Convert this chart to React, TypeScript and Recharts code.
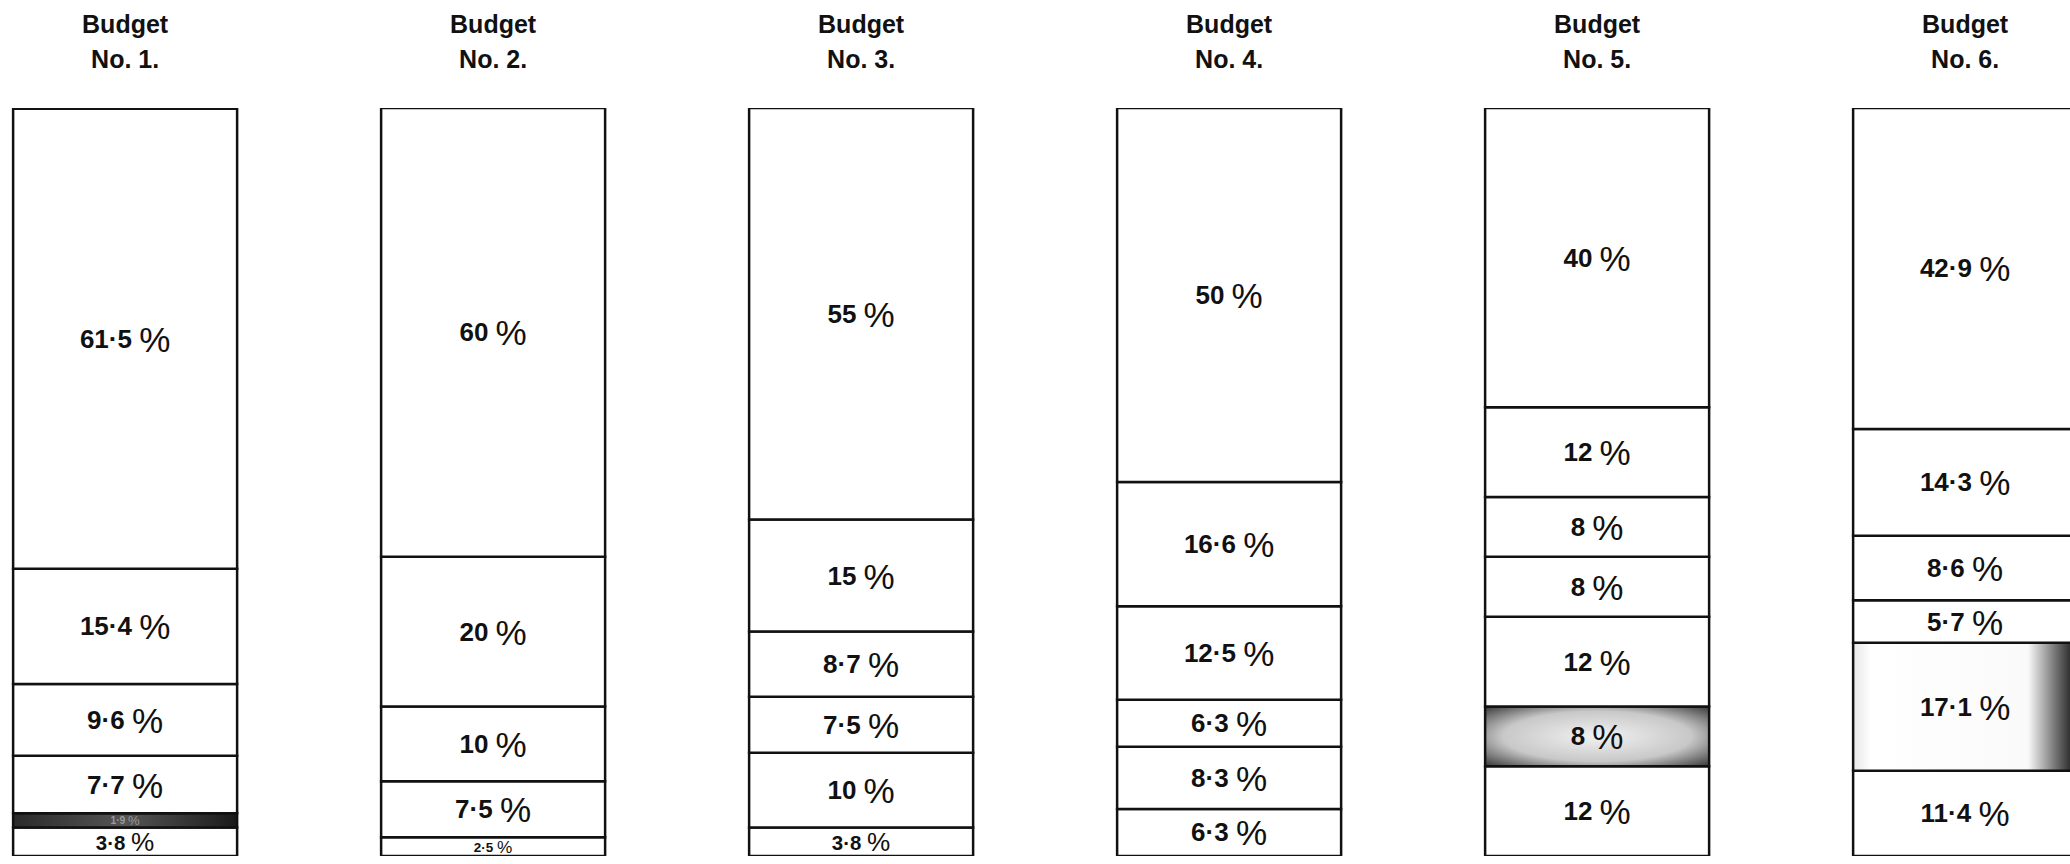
import React from "react";
import { BarChart, Bar, XAxis, YAxis, Cell, LabelList } from "recharts";

// values per budget, listed bottom segment first
const budget1 = [3.8, 1.9, 7.7, 9.6, 15.4, 61.5];
const budget2 = [2.5, 7.5, 10, 20, 60];
const budget3 = [3.8, 10, 7.5, 8.7, 15, 55];
const budget4 = [6.3, 8.3, 6.3, 12.5, 16.6, 50];
const budget5 = [12, 8, 12, 8, 8, 12, 40];
const budget6 = [11.4, 17.1, 5.7, 8.6, 14.3, 42.9];

const labels1 = ["3·8", "1·9", "7·7", "9·6", "15·4", "61·5"];
const labels2 = ["2·5", "7·5", "10", "20", "60"];
const labels3 = ["3·8", "10", "7·5", "8·7", "15", "55"];
const labels4 = ["6·3", "8·3", "6·3", "12·5", "16·6", "50"];
const labels5 = ["12", "8", "12", "8", "8", "12", "40"];
const labels6 = ["11·4", "17·1", "5·7", "8·6", "14·3", "42·9"];

const titles = ["No. 1.", "No. 2.", "No. 3.", "No. 4.", "No. 5.", "No. 6."];
// index of the shaded segment in each budget (bottom first), -1 for none
const shadedSegment = [1, -1, -1, -1, 1, 1];

const budgets = [budget1, budget2, budget3, budget4, budget5, budget6];
const budgetLabels = [labels1, labels2, labels3, labels4, labels5, labels6];
const maxSegments = Math.max(...budgets.map((b) => b.length));
const segKeys = Array.from({ length: maxSegments }, (_, k) => `s${k}`);

const data = budgets.map((vals, i) => {
  const row: Record<string, number> = { pos: i };
  vals.forEach((v, k) => {
    row[`s${k}`] = v;
  });
  return row;
});

const shadeFill = ["url(#darkShade)", "", "", "", "url(#midShade)", "url(#sideShade)"];
const FONT = "'Liberation Sans', Arial, sans-serif";

function TitleTick(props: any) {
  const { x, payload } = props;
  const i = payload.value as number;
  return (
    <g>
      <text x={x} y={33} textAnchor="middle" fontFamily={FONT} fontWeight="bold" fontSize={25} fill="#111">
        Budget
      </text>
      <text x={x} y={68} textAnchor="middle" fontFamily={FONT} fontWeight="bold" fontSize={25} fill="#111">
        {titles[i]}
      </text>
    </g>
  );
}

function makeLabel(k: number) {
  return (props: any) => {
    const { x, y, width, height, value } = props;
    const idx = Number(value);
    const text = budgetLabels[idx]?.[k];
    if (!text || !height) return null;
    const shaded = shadedSegment[idx] === k;
    const dark = shaded && idx === 0;
    const fs = Math.min(26, height * 0.72);
    const pct = Math.min(fs * 1.35, height * 0.92);
    return (
      <text
        x={x + width / 2}
        y={y + height / 2}
        textAnchor="middle"
        dominantBaseline="central"
        fontFamily={FONT}
        fill={dark ? "#9a9a9a" : "#111"}
      >
        <tspan fontWeight="bold" fontSize={fs}>{text} </tspan>
        <tspan fontSize={pct}>%</tspan>
      </text>
    );
  };
}

export default function App() {
  return (
    <div style={{ position: "absolute", left: 0, top: 0, background: "#fff" }}>
      <BarChart width={2070} height={864} data={data} margin={{ top: 107, right: 0, bottom: 8, left: 0 }}>
        <defs>
          <linearGradient id="darkShade" x1="0" y1="0" x2="1" y2="0">
            <stop offset="0%" stopColor="#2a2a2a" />
            <stop offset="50%" stopColor="#555" />
            <stop offset="100%" stopColor="#1a1a1a" />
          </linearGradient>
          <radialGradient id="midShade" cx="0.5" cy="0.5" r="0.7">
            <stop offset="0%" stopColor="#f2f2f2" />
            <stop offset="60%" stopColor="#c8c8c8" />
            <stop offset="100%" stopColor="#3a3a3a" />
          </radialGradient>
          <linearGradient id="sideShade" x1="0" y1="0" x2="1" y2="0">
            <stop offset="0%" stopColor="#e6e6e6" />
            <stop offset="8%" stopColor="#ffffff" />
            <stop offset="78%" stopColor="#fafafa" />
            <stop offset="90%" stopColor="#777" />
            <stop offset="100%" stopColor="#111" />
          </linearGradient>
        </defs>
        <XAxis
          type="number"
          dataKey="pos"
          domain={[-0.34, 5.285]}
          allowDataOverflow
          ticks={[0, 1, 2, 3, 4, 5]}
          orientation="top"
          axisLine={false}
          tickLine={false}
          tick={<TitleTick />}
          height={1}
        />
        <YAxis type="number" domain={[0, 100]} hide allowDataOverflow />
        {segKeys.map((key, k) => (
          <Bar
            key={key}
            dataKey={key}
            stackId="a"
            barSize={224}
            fill="#fff"
            stroke="#111"
            strokeWidth={2.5}
            isAnimationActive={false}
          >
            {data.map((_, i) => (
              <Cell key={i} fill={shadedSegment[i] === k ? shadeFill[i] : "#fff"} />
            ))}
            <LabelList dataKey={(row: any) => `${row.pos}`} content={makeLabel(k)} />
          </Bar>
        ))}
      </BarChart>
    </div>
  );
}
